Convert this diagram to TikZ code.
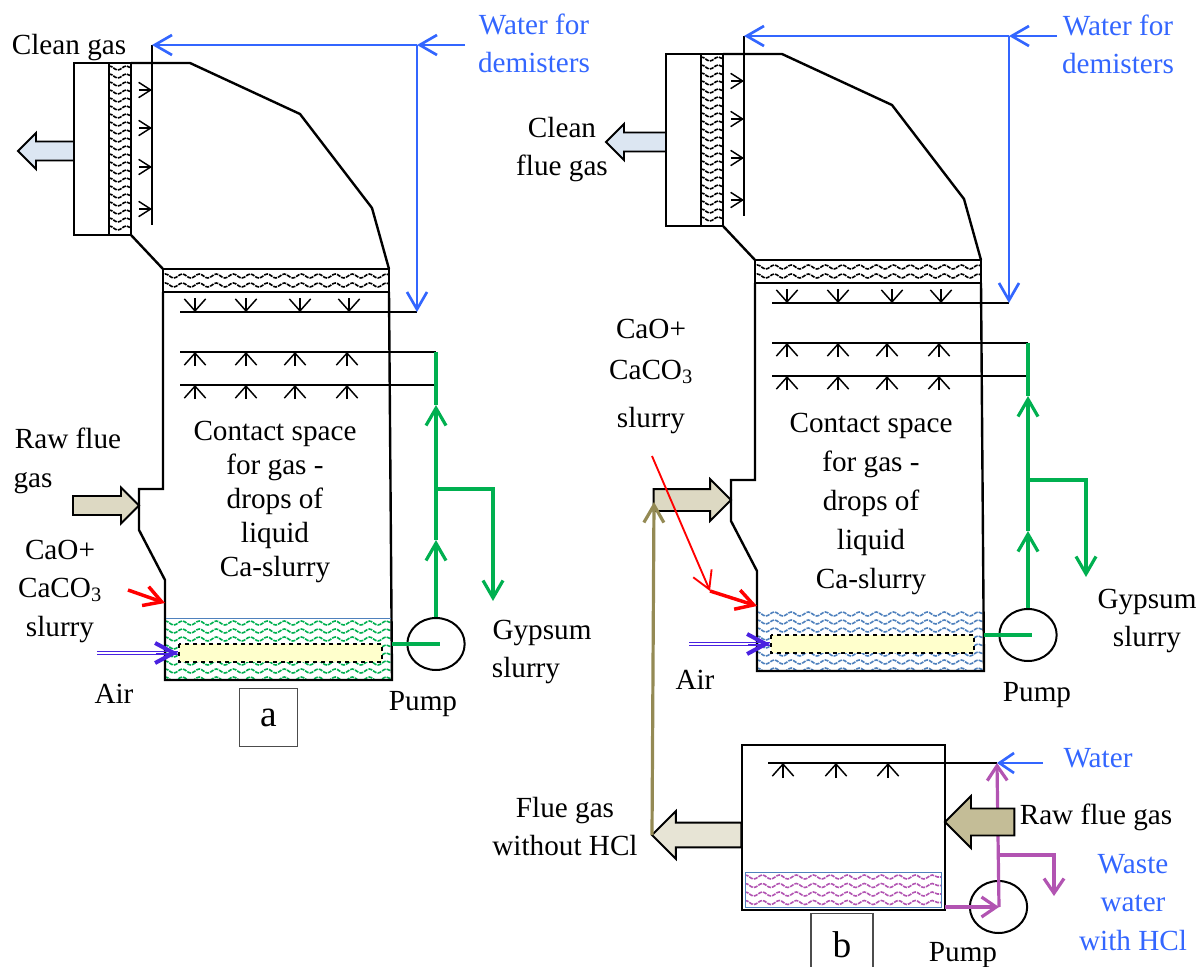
\documentclass[tikz,border=0pt]{standalone}
\usepackage{fontspec}
\setmainfont{Liberation Serif}
\usetikzlibrary{arrows.meta,decorations.pathmorphing,shapes.geometric,shapes.arrows}

\definecolor{pipeBlue}{HTML}{3366FF}
\definecolor{pipeGreen}{HTML}{00B050}
\definecolor{pipePurple}{HTML}{B254B2}
\definecolor{pipeOlive}{HTML}{948A54}
\definecolor{airBlue}{HTML}{4A22E0}
\definecolor{waveBlue}{HTML}{4F81BD}
\definecolor{lanceYellow}{HTML}{FFFFCC}
\definecolor{gasTan}{HTML}{DDD9C3}
\definecolor{gasKhaki}{HTML}{C4BD97}
\definecolor{gasSky}{HTML}{DCE6F2}

\tikzset{
  wall/.style={line width=1.8pt,line join=miter},
  thinbox/.style 2 args={draw=black!70,line width=.8pt,minimum width=#1,minimum height=#2,inner sep=0pt},
  nozzle/.style={line width=1.1pt,-{Straight Barb[length=9pt,width=#1]}},
  nozzle/.default=16pt,
  sprayline/.style={line width=1.6pt},
  wavy/.style={decorate,decoration={snake,amplitude=1.5pt,segment length=12.75pt},line width=1.2pt,dash pattern=on 3pt off .8pt},
  bigtip/.style={-{Straight Barb[length=13pt,width=15pt]}},
  bluepipe/.style={draw=pipeBlue,line width=2pt},
  greenpipe/.style={draw=pipeGreen,line width=2.4pt},
  purplepipe/.style={draw=pipePurple,line width=2.4pt},
  redpipe/.style={draw=red,line width=2.6pt,bigtip},
  airpipe/.style={draw=airBlue,line width=.6pt},
  airhead/.style={draw=airBlue,line width=.6pt,-{Straight Barb[length=14pt,width=15pt,line width=3pt]}},
  pumpcase/.style={ellipse,draw,line width=1.5pt,minimum width=43pt,minimum height=39pt,inner sep=0pt},
  gasarrow/.style 2 args={single arrow,draw,line width=1.4pt,inner sep=#1,single arrow head extend=#1,single arrow tip angle=90,minimum height=#2,outer sep=0pt,anchor=tip},
  lbl/.style={font=\fontsize{21.9}{25}\selectfont,text height=1.22em,text depth=0pt,inner sep=0pt},
  bluelbl/.style={lbl,text=pipeBlue},
  para/.style={font=\fontsize{21.9}{#1}\selectfont,align=center,inner sep=0pt}
}

\newcommand{\scrubber}[3]{
  \begin{scope}[shift={#2},name prefix=#1-]
    \begin{scope}
      \clip (166,618) rectangle (391,680);
      \foreach \wy in {623,631,...,679}
        \draw[wavy,#3] (160,\wy) -- (400,\wy);
    \end{scope}
    \draw[wall] (74,63) rectangle (109,235) (109,63) rectangle (131,235);
    \begin{scope}
      \clip (109,63) rectangle (131,235);
      \foreach \wy in {68,76,...,235}
        \draw[wavy] (104,\wy) -- (136,\wy);
    \end{scope}
    \begin{scope}
      \clip (163,269) rectangle (389,292);
      \draw[wavy] (160,276) -- (392,276);
      \draw[wavy] (160,285) -- (392,285);
    \end{scope}
    \draw[wall] (131,63) -- (190,63) -- (300,114) -- (372,208) -- (389,269);
    \draw[wall] (131,235) -- (163,269);
    \draw[wall] (163,269) rectangle (389,292);
    \draw[wall] (163,292) -- (163,489) -- (139,489) -- (139,530) -- (165,580) -- (165,680) -- (392,680) -- (389,292);
    \draw[fill=lanceYellow,dashed,line width=1pt] (179,644) rectangle (382,662);

    \coordinate (waterIn)   at (465,45);
    \coordinate (tee)       at (417,45);
    \coordinate (headTop)   at (152,45);
    \coordinate (headEnd)   at (152,225);
    \coordinate (sprayEnd)  at (417,312);
    \coordinate (greenTop)  at (436,352);
    \coordinate (greenMid)  at (436,385);
    \coordinate (greenHigh) at (436,405);
    \coordinate (branch)    at (436,489);
    \coordinate (greenLow)  at (436,540);
    \coordinate (tankOut)   at (392,644);
    \coordinate (pumpHub)   at (440,644);

    \draw[sprayline] (headTop) -- (headEnd);
    \foreach \sy in {90,128,167,209}
      \draw[nozzle=11.5pt] (139,\sy) -- (152,\sy);
    \draw[sprayline] (180,312) -- (sprayEnd);
    \foreach \sx in {195,246,300,349}
      \draw[nozzle] (\sx,298) -- (\sx,312);
    \draw[sprayline] (180,352) -- (greenTop);
    \draw[sprayline] (180,385) -- (greenMid);
    \foreach \sx in {195,246,295,347} {
      \draw[nozzle] (\sx,366) -- (\sx,352);
      \draw[nozzle] (\sx,399) -- (\sx,385);
    }

    \draw[bluepipe,bigtip] (waterIn) -- (tee);
    \draw[bluepipe,bigtip] (tee) -- (headTop);
    \draw[bluepipe,bigtip] (tee) -- (sprayEnd);

    \node[pumpcase] (pump) at (436,644) {};
    \draw[greenpipe] (tankOut) -- (pumpHub);
    \draw[greenpipe,bigtip] (pump.north) -- (greenLow);
    \draw[greenpipe,bigtip] (greenLow) -- (greenHigh);
    \draw[greenpipe] (greenHigh) -- (greenTop);
  \end{scope}
}

\begin{document}
\begin{tikzpicture}[x=.75pt,y=-.75pt,node distance=29pt]
  \useasboundingbox (0,0) rectangle (1204,967);

  \scrubber{a}{(0,0)}{pipeGreen}
  \scrubber{c}{(592,-9)}{waveBlue}
  \draw[waveBlue,line width=.7pt] (166,618) -- (391,618);

  \coordinate (aDrain) at (493,601);
  \coordinate (cDrain) at (1086,577);
  \draw[greenpipe,bigtip] (a-branch) -| (aDrain);
  \draw[greenpipe,bigtip] (c-branch) -| (cDrain);

  \node[gasarrow={6.4pt}{42pt},shape border rotate=180,fill=gasSky] (cleanA) at (18,151) {};
  \node[gasarrow={6.4pt}{45pt},shape border rotate=180,fill=gasSky] (cleanC) at (606,142) {};
  \node[gasarrow={6.4pt}{49.5pt},fill=gasTan] (rawA) at (139,505.5) {};
  \node[gasarrow={7.5pt}{58pt},fill=gasTan] (rawC) at (731,500) {};

  \coordinate (redA) at (128,590);
  \coordinate (wallA) at (165,603);
  \draw[redpipe] (redA) -- (wallA);
  \coordinate (redStart) at (652,456);
  \coordinate (redKnee) at (710,591);
  \coordinate (wallC) at (757,606);
  \draw[draw=red,line width=1.4pt,bigtip] (redStart) -- (redKnee);
  \draw[redpipe] (redKnee) -- (wallC);

  \coordinate (airA) at (97,653);
  \coordinate (neckA) at (156,653);
  \coordinate (lanceA) at (178,653);
  \coordinate (airC) at (689,644);
  \coordinate (neckC) at (748,644);
  \coordinate (lanceC) at (770,644);
  \draw[airpipe] ([yshift=1pt]airA) -- ([yshift=1pt]lanceA);
  \draw[airpipe] ([yshift=-1pt]airA) -- ([yshift=-1pt]lanceA);
  \draw[airhead] (neckA) -- (lanceA);
  \draw[airpipe] ([yshift=1pt]airC) -- ([yshift=1pt]lanceC);
  \draw[airpipe] ([yshift=-1pt]airC) -- ([yshift=-1pt]lanceC);
  \draw[airhead] (neckC) -- (lanceC);

  \begin{scope}
    \clip (745,872) rectangle (941,907);
    \foreach \wy in {877,885.5,...,905}
      \draw[wavy,pipePurple] (740,\wy) -- (945,\wy);
  \end{scope}
  \draw[waveBlue,line width=.7pt] (745,872) rectangle (941,907);
  \draw[wall] (742,745) rectangle (945,910);

  \coordinate (washEnd) at (997,763);
  \coordinate (waterB)  at (1043,763);
  \coordinate (teeB)    at (999,855);
  \coordinate (drainB)  at (1054,896);
  \coordinate (hubB)    at (999,907);
  \coordinate (tankB)   at (945,907);
  \draw[sprayline] (768,763) -- (washEnd);
  \foreach \sx in {783,836,888}
    \draw[nozzle] (\sx,778) -- (\sx,763);
  \draw[bluepipe,-{Straight Barb[length=11pt,width=15pt]}] (waterB) -- (washEnd);
  \node[pumpcase] (pumpB) at (998.5,907) {};
  \draw[purplepipe,-{Straight Barb[length=11pt,width=15pt]}] (tankB) -- (hubB);
  \draw[purplepipe,-{Straight Barb[length=11pt,width=15pt]}] (hubB) -- (washEnd);
  \draw[purplepipe,-{Straight Barb[length=11pt,width=15pt]}] (teeB) -| (drainB);

  \node[gasarrow={9.4pt}{52pt},shape border rotate=180,fill=gasKhaki] (rawB) at (945,822) {};
  \node[gasarrow={8.6pt}{67pt},shape border rotate=180,left color=gasTan!70,middle color=gasKhaki!75,right color=gasTan!70] (flueB) at (652,835) {};

  \coordinate (flueTip) at (654,502);
  \draw[pipeOlive,line width=2.4pt,bigtip] (flueB.tip) -- (flueTip);

  \node[thinbox={43pt}{44pt}] (tagA) at (268.5,717.5) {\fontsize{28}{28}\selectfont a};
  \node[thinbox={46.5pt}{47pt}] (tagB) at (842,945) {\fontsize{28}{28}\selectfont b};

  \node[lbl]     (cleanGas) at (69,46)  {Clean gas};
  \node[bluelbl] (waterA)   at (534,26) {Water for};
  \node[bluelbl] (waterA2)  [below of=waterA] {demisters};
  \node[lbl]     (rawFlue)  at (68,440) {Raw flue};
  \node[lbl]     (rawGas)   at (33,479) {gas};
  \node[lbl]     (caoA)     at (60,551) {CaO+};
  \node[lbl]     (caco)     [below of=caoA] {CaCO\textsubscript{3}};
  \node[lbl]     (slurryA)  [below of=caco] {slurry};
  \node[lbl]     (airAlbl)  at (114,695) {Air};
  \node[lbl]     (pumpAlbl) at (423,702) {Pump};
  \node[lbl]     (gypsumA)  at (542,631) {Gypsum};
  \node[lbl]     (gypsumA2) at (526,669) {slurry};
  \node[para=25.5] (contactA) at (275,502) {Contact space\\for gas -\\drops of\\liquid\\Ca-slurry};

  \node[lbl]     (cleanC)   at (562,129) {Clean};
  \node[lbl]     (cleanC2)  [below of=cleanC] {flue gas};
  \node[bluelbl] (waterC)   at (1118,27) {Water for};
  \node[bluelbl] (waterC2)  [below of=waterC] {demisters};
  \node[lbl]     (caoC)     at (651,330) {CaO+};
  \node[lbl]     (cacoC)    at (651,371) {CaCO\textsubscript{3}};
  \node[lbl]     (slurryC)  at (651,419) {slurry};
  \node[lbl]     (airClbl)  at (695,681) {Air};
  \node[lbl]     (pumpClbl) at (1037,693) {Pump};
  \node[lbl]     (gypsumC)  at (1147,600) {Gypsum};
  \node[lbl]     (gypsumC2) [below of=gypsumC] {slurry};
  \node[para=29.25] (contactC) at (871,503.5) {Contact space\\for gas -\\drops of\\liquid\\Ca-slurry};

  \node[bluelbl] (waterB)   at (1098,759) {Water};
  \node[lbl]     (rawBlbl)  at (1096,816) {Raw flue gas};
  \node[bluelbl] (wasteB)   at (1133,865) {Waste};
  \node[bluelbl] (wasteB2)  [below of=wasteB] {water};
  \node[bluelbl] (wasteB3)  [below of=wasteB2] {with HCl};
  \node[lbl]     (flueOut)  at (565,809) {Flue gas};
  \node[lbl]     (flueOut2) [below of=flueOut] {without HCl};
  \node[lbl]     (pumpBlbl) at (963,953) {Pump};
\end{tikzpicture}
\end{document}
